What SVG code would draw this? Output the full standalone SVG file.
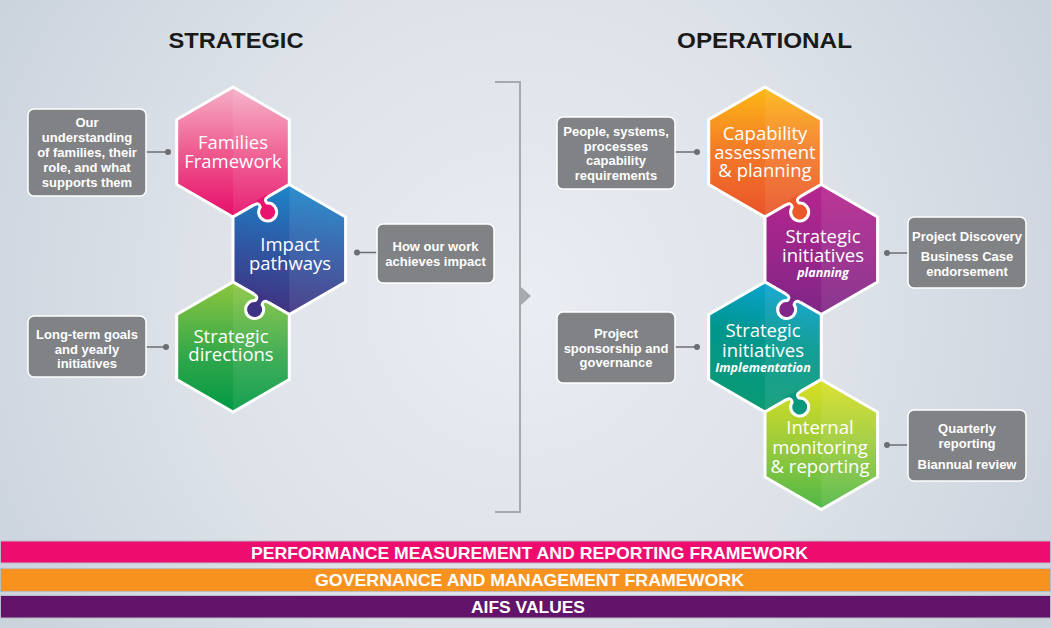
<svg xmlns="http://www.w3.org/2000/svg" width="1051" height="628" viewBox="0 0 1051 628">
<defs>
  <radialGradient id="bg" cx="520" cy="300" r="600" gradientUnits="userSpaceOnUse">
    <stop offset="0" stop-color="#eaedf2"/>
    <stop offset="0.55" stop-color="#dde2e9"/>
    <stop offset="1" stop-color="#cbd3dd"/>
  </radialGradient>
  <linearGradient id="gFam" x1="0" y1="-65" x2="0" y2="65" gradientUnits="userSpaceOnUse">
    <stop offset="0" stop-color="#f6b0c8"/>
    <stop offset="0.5" stop-color="#ef5a8f"/>
    <stop offset="1" stop-color="#e70d6a"/>
  </linearGradient>
  <linearGradient id="gImp" x1="10" y1="-65" x2="-10" y2="65" gradientUnits="userSpaceOnUse">
    <stop offset="0" stop-color="#1b87cc"/>
    <stop offset="0.5" stop-color="#2f58a4"/>
    <stop offset="1" stop-color="#41307f"/>
  </linearGradient>
  <linearGradient id="gDir" x1="0" y1="-65" x2="0" y2="65" gradientUnits="userSpaceOnUse">
    <stop offset="0" stop-color="#8dc63f"/>
    <stop offset="0.6" stop-color="#2ea64a"/>
    <stop offset="1" stop-color="#009944"/>
  </linearGradient>
  <linearGradient id="gCap" x1="0" y1="-65" x2="0" y2="65" gradientUnits="userSpaceOnUse">
    <stop offset="0" stop-color="#fdb914"/>
    <stop offset="0.5" stop-color="#f37928"/>
    <stop offset="1" stop-color="#e9532a"/>
  </linearGradient>
  <linearGradient id="gPlan" x1="0" y1="-65" x2="0" y2="65" gradientUnits="userSpaceOnUse">
    <stop offset="0" stop-color="#b8258f"/>
    <stop offset="1" stop-color="#7e2686"/>
  </linearGradient>
  <linearGradient id="gImpl" x1="25" y1="-65" x2="-5" y2="65" gradientUnits="userSpaceOnUse">
    <stop offset="0" stop-color="#0ba4d6"/>
    <stop offset="0.45" stop-color="#00968f"/>
    <stop offset="1" stop-color="#0b9a72"/>
  </linearGradient>
  <linearGradient id="gMon" x1="0" y1="-65" x2="0" y2="65" gradientUnits="userSpaceOnUse">
    <stop offset="0" stop-color="#d9e021"/>
    <stop offset="0.5" stop-color="#9ccb3b"/>
    <stop offset="1" stop-color="#4fb748"/>
  </linearGradient>
  <path id="hex" d="M0,-65 L56.3,-32.5 L56.3,32.5 L0,65 L-56.3,32.5 L-56.3,-32.5 Z"/>
  <path id="half" d="M0,-65 L56.3,-32.5 L56.3,32.5 L0,65 Z"/>
  <path id="knobFill" d="M-8,-2.6 L-8,0 C-4,0 -3,2 -4,5 A9 9 0 1 0 4,5 C3,2 4,0 8,0 L8,-2.6 Z"/>
  <path id="knobLine" d="M-8,0 C-4,0 -3,2 -4,5 A9 9 0 1 0 4,5 C3,2 4,0 8,0"/>
</defs>
<style>
  .hexs { stroke:#ffffff; stroke-width:3; stroke-linejoin:miter; }
  .facet { fill:#ffffff; opacity:0.08; }
  .kline { fill:none; stroke:#ffffff; stroke-width:3; }
  .box { fill:#808285; stroke:#ffffff; stroke-width:1.5; }
  .btxt { font-family:"Liberation Sans", Arial, sans-serif; font-weight:bold; font-size:13px; fill:#ffffff; text-anchor:middle; }
  .htxt { font-family:"Open Sans", "Liberation Sans", sans-serif; font-size:18.5px; fill:#ffffff; text-anchor:middle; }
  .hit { font-size:12.5px; font-weight:bold; font-style:italic; }
  .title { font-family:"Liberation Sans", Arial, sans-serif; font-weight:bold; font-size:22px; fill:#1a1a1a; text-anchor:middle; }
  .conn { stroke:#6d6e71; stroke-width:1.5; fill:none; }
  .dot { fill:#6d6e71; }
  .bar { stroke:#b8bcc3; stroke-width:1; }
  .bartxt { font-family:"Liberation Sans", Arial, sans-serif; font-weight:bold; font-size:16.5px; fill:#ffffff; text-anchor:middle; }
</style>

<rect x="0" y="0" width="1051" height="628" fill="url(#bg)"/>

<text class="title" x="236" y="48" textLength="135" lengthAdjust="spacingAndGlyphs">STRATEGIC</text>
<text class="title" x="764.5" y="48" textLength="175" lengthAdjust="spacingAndGlyphs">OPERATIONAL</text>

<g id="bracket" fill="none" stroke="#a7a9ac" stroke-width="2">
  <path d="M495,82 L520,82 L520,512 L495,512"/>
  <path d="M521,287 L531,296 L521,305 Z" fill="#a7a9ac" stroke="none"/>
</g>

<g id="connectors">
  <line class="conn" x1="146" y1="152" x2="168" y2="152"/><circle class="dot" cx="168" cy="152" r="3"/>
  <line class="conn" x1="146" y1="347" x2="166" y2="347"/><circle class="dot" cx="166" cy="347" r="3"/>
  <line class="conn" x1="357" y1="252.5" x2="377" y2="252.5"/><circle class="dot" cx="357" cy="252.5" r="3"/>
  <line class="conn" x1="675" y1="152" x2="697" y2="152"/><circle class="dot" cx="697" cy="152" r="3"/>
  <line class="conn" x1="675" y1="347" x2="697" y2="347"/><circle class="dot" cx="697" cy="347" r="3"/>
  <line class="conn" x1="887" y1="253" x2="908" y2="253"/><circle class="dot" cx="887" cy="253" r="3"/>
  <line class="conn" x1="887" y1="445" x2="908" y2="445"/><circle class="dot" cx="887" cy="445" r="3"/>
</g>

<g id="hexagons">
  <g id="families-framework" transform="translate(233,152)">
    <use href="#hex" fill="url(#gFam)" class="hexs"/>
    <use href="#half" class="facet"/>
  </g>
  <g id="impact-pathways" transform="translate(289.3,249.5)">
    <use href="#hex" fill="url(#gImp)" class="hexs"/>
    <use href="#half" class="facet"/>
  </g>
  <g id="strategic-directions" transform="translate(233,347)">
    <use href="#hex" fill="url(#gDir)" class="hexs"/>
    <use href="#half" class="facet"/>
  </g>
  <g id="capability" transform="translate(765,152)">
    <use href="#hex" fill="url(#gCap)" class="hexs"/>
    <use href="#half" class="facet"/>
  </g>
  <g id="initiatives-planning" transform="translate(821.3,249.5)">
    <use href="#hex" fill="url(#gPlan)" class="hexs"/>
    <use href="#half" class="facet"/>
  </g>
  <g id="initiatives-implementation" transform="translate(765,347)">
    <use href="#hex" fill="url(#gImpl)" class="hexs"/>
    <use href="#half" class="facet"/>
  </g>
  <g id="internal-monitoring" transform="translate(821.3,444.5)">
    <use href="#hex" fill="url(#gMon)" class="hexs"/>
    <use href="#half" class="facet"/>
  </g>
</g>

<g id="knobs">
  <g transform="translate(261.15,200.75) rotate(-30)"><use href="#knobFill" fill="#e8146d"/><use href="#knobLine" class="kline"/></g>
  <g transform="translate(261.15,298.25) rotate(30)"><use href="#knobFill" fill="#3d3382"/><use href="#knobLine" class="kline"/></g>
  <g transform="translate(793.15,200.75) rotate(-30)"><use href="#knobFill" fill="#eb5829"/><use href="#knobLine" class="kline"/></g>
  <g transform="translate(793.15,298.25) rotate(30)"><use href="#knobFill" fill="#822689"/><use href="#knobLine" class="kline"/></g>
  <g transform="translate(793.15,395.75) rotate(-30)"><use href="#knobFill" fill="#08977c"/><use href="#knobLine" class="kline"/></g>
</g>

<g id="hex-labels">
  <text class="htxt"><tspan x="233" y="148.5">Families</tspan><tspan x="233" y="167.5">Framework</tspan></text>
  <text class="htxt"><tspan x="290" y="250.5">Impact</tspan><tspan x="290" y="269.5">pathways</tspan></text>
  <text class="htxt"><tspan x="231" y="342.5">Strategic</tspan><tspan x="231" y="361">directions</tspan></text>
  <text class="htxt"><tspan x="765" y="139.5">Capability</tspan><tspan x="765" y="158.5">assessment</tspan><tspan x="765" y="177">&amp; planning</tspan></text>
  <text class="htxt"><tspan x="823" y="243">Strategic</tspan><tspan x="823" y="262">initiatives</tspan><tspan class="hit" x="823" y="277">planning</tspan></text>
  <text class="htxt"><tspan x="763" y="337">Strategic</tspan><tspan x="763" y="356.5">initiatives</tspan><tspan class="hit" x="763" y="372">Implementation</tspan></text>
  <text class="htxt"><tspan x="820" y="434">Internal</tspan><tspan x="820" y="453.5">monitoring</tspan><tspan x="820" y="472.5">&amp; reporting</tspan></text>
</g>

<g id="box-families">
  <rect class="box" x="28" y="109" width="118" height="87" rx="6"/>
  <text class="btxt"><tspan x="87" y="126.5">Our</tspan><tspan x="87" y="141.5">understanding</tspan><tspan x="87" y="156.5">of families, their</tspan><tspan x="87" y="171.5">role, and what</tspan><tspan x="87" y="186.5">supports them</tspan></text>
</g>
<g id="box-goals">
  <rect class="box" x="28" y="316" width="118" height="61" rx="6"/>
  <text class="btxt"><tspan x="87" y="338.5">Long-term goals</tspan><tspan x="87" y="353.5">and yearly</tspan><tspan x="87" y="368">initiatives</tspan></text>
</g>
<g id="box-impact">
  <rect class="box" x="377" y="224" width="117" height="59" rx="6"/>
  <text class="btxt"><tspan x="435.5" y="250.5">How our work</tspan><tspan x="435.5" y="265.5">achieves impact</tspan></text>
</g>
<g id="box-people">
  <rect class="box" x="557" y="117" width="118" height="72" rx="6"/>
  <text class="btxt"><tspan x="616" y="136">People, systems,</tspan><tspan x="616" y="150.7">processes</tspan><tspan x="616" y="165.4">capability</tspan><tspan x="616" y="180">requirements</tspan></text>
</g>
<g id="box-sponsorship">
  <rect class="box" x="557" y="312" width="118" height="71" rx="6"/>
  <text class="btxt"><tspan x="616" y="337.7">Project</tspan><tspan x="616" y="352.5">sponsorship and</tspan><tspan x="616" y="367.3">governance</tspan></text>
</g>
<g id="box-discovery">
  <rect class="box" x="908" y="217" width="118" height="71" rx="6"/>
  <text class="btxt"><tspan x="967" y="240.7">Project Discovery</tspan><tspan x="967" y="261">Business Case</tspan><tspan x="967" y="275.5">endorsement</tspan></text>
</g>
<g id="box-reporting">
  <rect class="box" x="908" y="410" width="118" height="71" rx="6"/>
  <text class="btxt"><tspan x="967" y="433.3">Quarterly</tspan><tspan x="967" y="448.3">reporting</tspan><tspan x="967" y="468.7">Biannual review</tspan></text>
</g>

<g id="bar-performance">
  <rect class="bar" x="0.5" y="541" width="1050" height="22" fill="#ee0c6e"/>
  <text class="bartxt" x="529.5" y="558.5" textLength="557" lengthAdjust="spacingAndGlyphs">PERFORMANCE MEASUREMENT AND REPORTING FRAMEWORK</text>
</g>
<g id="bar-governance">
  <rect class="bar" x="0.5" y="568.5" width="1050" height="23" fill="#f7921f"/>
  <text class="bartxt" x="529.5" y="586" textLength="429" lengthAdjust="spacingAndGlyphs">GOVERNANCE AND MANAGEMENT FRAMEWORK</text>
</g>
<g id="bar-values">
  <rect class="bar" x="0.5" y="595.5" width="1050" height="22.5" fill="#611469"/>
  <text class="bartxt" x="528" y="612.5" textLength="114" lengthAdjust="spacingAndGlyphs">AIFS VALUES</text>
</g>
</svg>
